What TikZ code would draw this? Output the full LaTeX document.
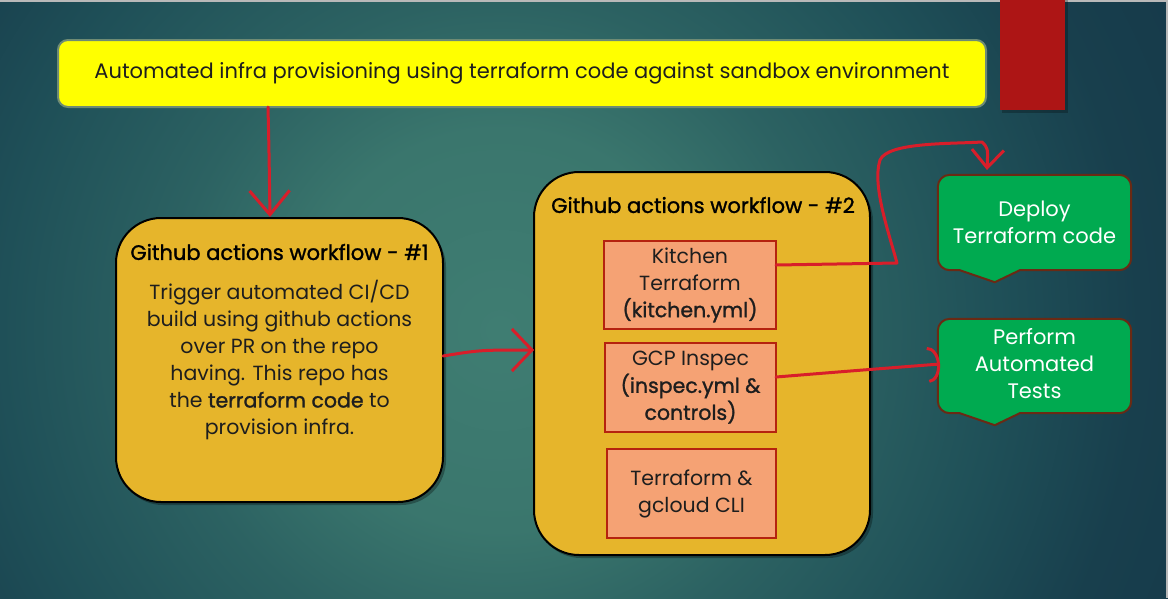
\documentclass[tikz,border=0pt]{standalone}
\usepackage{fontspec}
\setmainfont{Poppins}
\newfontfamily\medfont{Poppins}[FakeBold=1.3]
\usetikzlibrary{arrows.meta,calc}
\definecolor{bgdark}{HTML}{163A4A}
\definecolor{bgdeep}{HTML}{183F4D}
\definecolor{bgedge}{HTML}{1F5058}
\definecolor{bgmid}{HTML}{2C6262}
\definecolor{bglight}{HTML}{3F7D72}
\definecolor{bgsoft}{HTML}{3A766D}
\definecolor{topyellow}{HTML}{FFFF00}
\definecolor{topedge}{HTML}{6E8B74}
\definecolor{wfgold}{HTML}{E6B52B}
\definecolor{salmon}{HTML}{F5A274}
\definecolor{salmonedge}{HTML}{B5230F}
\definecolor{calloutgreen}{HTML}{00AA50}
\definecolor{calloutedge}{HTML}{6A2A14}
\definecolor{penred}{HTML}{D81E2A}
\definecolor{barred}{HTML}{AD1515}
\definecolor{inktext}{HTML}{1E1E1E}
\pgfdeclareradialshading{bgshade}{\pgfpoint{0bp}{0bp}}{%
  color(0bp)=(bglight); color(6.6bp)=(bgsoft); color(10.9bp)=(bgmid);
  color(16.4bp)=(bgedge); color(21bp)=(bgdeep); color(25bp)=(bgdark); color(50bp)=(bgdark)}
\tikzset{
  wfbox/.style={draw=black, line width=2pt, fill=wfgold, rounded corners=45pt, inner sep=0pt},
  subbox/.style={draw=salmonedge, line width=2pt, fill=salmon, inner sep=0pt},
  boxtext/.style={text=inktext, align=center, inner sep=0pt, font=\fontsize{20.5}{27}\selectfont},
  titletext/.style={text=black, inner sep=0pt, font=\fontsize{21}{24}\selectfont\medfont},
  greentext/.style={text=white, align=center, inner sep=0pt, font=\fontsize{21}{27}\selectfont},
  callout/.style={draw=calloutedge, line width=2pt, fill=calloutgreen},
  redpen/.style={draw=penred, line width=3pt, line cap=round, line join=round},
}
\begin{document}
\begin{tikzpicture}[x=1pt,y=-1pt]
\useasboundingbox (0,0) rectangle (1168,598);
% background
\begin{scope}
  \clip (0,0) rectangle (1168,598);
  \fill[bgdark] (0,0) rectangle (1168,598);
  \shade[shading=bgshade] (500,330) circle (760);
  \fill[gray!55] (0,0) rectangle (1168,2);
  \fill[gray!55] (1166,0) rectangle (1168,598);
\end{scope}
% red bar
\fill[black, opacity=0.25] (1002,0) rectangle (1068,113);
\fill[barred] (1000,0) rectangle (1065,110);

% top box
\node[draw=topedge, line width=2pt, fill=topyellow, rounded corners=10pt,
      minimum width=928pt, minimum height=67pt, inner sep=0pt,
      text=inktext, font=\fontsize{21}{24}\selectfont] (top) at (522,73.5)
  {Automated infra provisioning using terraform code against sandbox environment};

% workflow 1
\fill[black, opacity=0.3, rounded corners=45pt] (118,222) rectangle (446,505);
\node[wfbox, minimum width=327pt, minimum height=284pt] (wf1) at (279.5,360) {};
\node[titletext] (wf1title) at (279.5,252) {Github actions workflow - \#1};
\node[boxtext] (wf1body) at (279.5,360) {Trigger automated CI/CD\\build using github actions\\over PR on the repo\\having. This repo has\\the {\medfont terraform code} to\\provision infra.};

% workflow 2
\fill[black, opacity=0.3, rounded corners=45pt] (536,176) rectangle (873,558);
\node[wfbox, minimum width=336pt, minimum height=383pt] (wf2) at (702,363.5) {};
\node[titletext] (wf2title) at (703,205) {Github actions workflow - \#2};
\node[subbox, minimum width=172pt, minimum height=88pt] (kitchen) at (690,285) {};
\node[boxtext] (kitchentext) at (690,285) {Kitchen\\Terraform\\{\medfont(kitchen.yml)}};
\node[subbox, minimum width=171pt, minimum height=89pt] (inspec) at (690.5,387.5) {};
\node[boxtext] (inspectext) at (690.5,387.5) {GCP Inspec\\{\medfont(inspec.yml \&}\\{\medfont controls)}};
\node[subbox, minimum width=169pt, minimum height=89pt] (cli) at (691.5,493.5) {};
\node[boxtext] (clitext) at (691.5,493.5) {Terraform \&\\gcloud CLI};

% green callouts
\node[minimum width=193pt, minimum height=95pt, inner sep=0pt] (deploy) at (1034.5,222.5) {};
\draw[callout, rounded corners=12pt] (deploy.north west) -- (deploy.north east) -- (deploy.south east)
  [sharp corners] -- ($(deploy.south west)+(82,0)$) -- ($(deploy.south west)+(57,12)$) -- ($(deploy.south west)+(22,0)$)
  [rounded corners=12pt] -- (deploy.south west) -- cycle;
\node[greentext] (deploytext) at (1034.5,222.5) {Deploy\\Terraform code};

\node[minimum width=193pt, minimum height=94pt, inner sep=0pt] (tests) at (1034.5,366) {};
\draw[callout, rounded corners=12pt] (tests.north west) -- (tests.north east) -- (tests.south east)
  [sharp corners] -- ($(tests.south west)+(82,0)$) -- ($(tests.south west)+(57,12)$) -- ($(tests.south west)+(22,0)$)
  [rounded corners=12pt] -- (tests.south west) -- cycle;
\node[greentext] (teststext) at (1034.5,364) {Perform\\Automated\\Tests};

% connectors
\coordinate (a1s) at (268,107);
\coordinate (a1e) at (270,217);
\draw[redpen, -{Straight Barb[length=24pt,width=40pt,line width=3pt]}] (a1s) .. controls (269,150) .. (a1e);

\coordinate (a2s) at (443,356);
\coordinate (a2e) at (534,350);
\draw[redpen, -{Straight Barb[length=20pt,width=42pt,line width=3pt]}] (a2s) .. controls (480,350) .. (a2e);

\coordinate (a3s) at (776,265);
\coordinate (a3e) at (987,170);
\draw[redpen, -{Straight Barb[length=18pt,width=32pt,line width=3pt]}] (a3s) -- (897,263)
  .. controls (888,230) and (872,185) .. (880,160)
  .. controls (888,142) and (950,144) .. (982,142)
  .. controls (988,148) .. (a3e);

\coordinate (a4s) at (776,377);
\coordinate (a4e) at (940,364);
\draw[redpen, -{Arc Barb[length=12pt,width=36pt,line width=3pt]}] (a4s) .. controls (850,371) .. (a4e);
\end{tikzpicture}
\end{document}
